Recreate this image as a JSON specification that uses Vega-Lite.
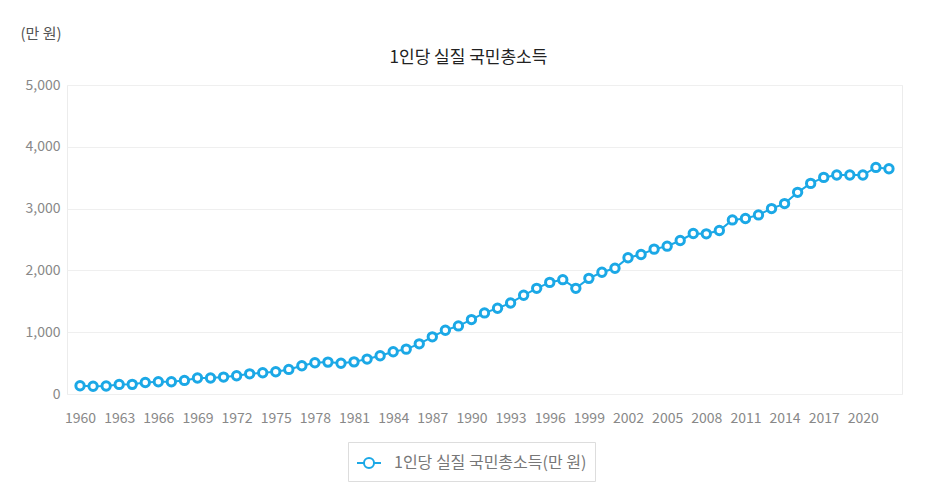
{
  "$schema": "https://vega.github.io/schema/vega-lite/v6.json",
  "width": 835,
  "height": 309,
  "autosize": {"type": "none"},
  "padding": {"left": 67, "top": 85, "right": 34, "bottom": 109},
  "background": "white",
  "config": {
    "font": "Noto Sans CJK KR",
    "view": {"stroke": "#ececec", "strokeWidth": 1}
  },
  "title": {
    "text": "1인당 실질 국민총소득",
    "fontSize": 17,
    "fontWeight": "normal",
    "color": "#222",
    "anchor": "middle",
    "dx": -16,
    "offset": -41
  },
  "data": {
    "values": [
      {"year": 1960, "value": 134}, {"year": 1961, "value": 125}, {"year": 1962, "value": 129},
      {"year": 1963, "value": 155}, {"year": 1964, "value": 156}, {"year": 1965, "value": 186},
      {"year": 1966, "value": 198}, {"year": 1967, "value": 199}, {"year": 1968, "value": 220},
      {"year": 1969, "value": 258}, {"year": 1970, "value": 258}, {"year": 1971, "value": 274},
      {"year": 1972, "value": 296}, {"year": 1973, "value": 326}, {"year": 1974, "value": 344},
      {"year": 1975, "value": 360}, {"year": 1976, "value": 398}, {"year": 1977, "value": 457},
      {"year": 1978, "value": 505}, {"year": 1979, "value": 516}, {"year": 1980, "value": 498},
      {"year": 1981, "value": 520}, {"year": 1982, "value": 565}, {"year": 1983, "value": 618},
      {"year": 1984, "value": 683}, {"year": 1985, "value": 726}, {"year": 1986, "value": 812},
      {"year": 1987, "value": 925}, {"year": 1988, "value": 1032}, {"year": 1989, "value": 1102},
      {"year": 1990, "value": 1204}, {"year": 1991, "value": 1312}, {"year": 1992, "value": 1387},
      {"year": 1993, "value": 1473}, {"year": 1994, "value": 1597}, {"year": 1995, "value": 1710},
      {"year": 1996, "value": 1806}, {"year": 1997, "value": 1850}, {"year": 1998, "value": 1710},
      {"year": 1999, "value": 1871}, {"year": 2000, "value": 1970}, {"year": 2001, "value": 2035},
      {"year": 2002, "value": 2205}, {"year": 2003, "value": 2258}, {"year": 2004, "value": 2344},
      {"year": 2005, "value": 2392}, {"year": 2006, "value": 2484}, {"year": 2007, "value": 2597},
      {"year": 2008, "value": 2592}, {"year": 2009, "value": 2645}, {"year": 2010, "value": 2817},
      {"year": 2011, "value": 2839}, {"year": 2012, "value": 2898}, {"year": 2013, "value": 3000},
      {"year": 2014, "value": 3081}, {"year": 2015, "value": 3263}, {"year": 2016, "value": 3408},
      {"year": 2017, "value": 3505}, {"year": 2018, "value": 3543}, {"year": 2019, "value": 3543},
      {"year": 2020, "value": 3543}, {"year": 2021, "value": 3666}, {"year": 2022, "value": 3645}
    ]
  },
  "encoding": {
    "x": {
      "field": "year",
      "type": "quantitative",
      "scale": {"domain": [1959, 2023], "nice": false, "zero": false},
      "axis": {
        "title": null,
        "values": [1960, 1963, 1966, 1969, 1972, 1975, 1978, 1981, 1984, 1987, 1990, 1993, 1996, 1999, 2002, 2005, 2008, 2011, 2014, 2017, 2020],
        "format": "d",
        "grid": false,
        "domain": false,
        "ticks": false,
        "labelColor": "#888",
        "labelFontSize": 14,
        "labelPadding": 17
      }
    },
    "y": {
      "field": "value",
      "type": "quantitative",
      "scale": {"domain": [0, 5000], "nice": false},
      "axis": {
        "title": "(만 원)",
        "titleAngle": 0,
        "titleAlign": "left",
        "titleBaseline": "middle",
        "titleX": -47,
        "titleY": -52,
        "titleFontSize": 15,
        "titleFontWeight": "normal",
        "titleColor": "#555",
        "values": [0, 1000, 2000, 3000, 4000, 5000],
        "format": ",d",
        "grid": true,
        "gridColor": "#efefef",
        "domain": false,
        "ticks": false,
        "labelColor": "#888",
        "labelFontSize": 14,
        "labelPadding": 7
      }
    },
    "color": {
      "datum": "1인당 실질 국민총소득(만 원)",
      "type": "nominal",
      "scale": {"range": ["#1ba8e6"]},
      "legend": {
        "title": null,
        "orient": "none",
        "legendX": 281,
        "legendY": 357,
        "strokeColor": "#dddddd",
        "padding": 8,
        "symbolType": "M-1,0L-0.42,0M0.42,0L1,0M0.42,0A0.42,0.42 0 1,1 -0.42,0A0.42,0.42 0 1,1 0.42,0Z",
        "symbolSize": 576,
        "symbolStrokeWidth": 2,
        "symbolFillColor": "white",
        "symbolStrokeColor": "#5bc0ee",
        "labelFontSize": 16,
        "labelColor": "#777",
        "labelOffset": 12,
        "labelLimit": 400
      }
    }
  },
  "layer": [
    {
      "mark": {"type": "line", "strokeWidth": 2, "color": "#1ba8e6"}
    },
    {
      "mark": {"type": "point", "shape": "circle", "filled": false, "fill": "white", "fillOpacity": 1, "stroke": "#1ba8e6", "strokeWidth": 3, "size": 70, "opacity": 1}
    }
  ]
}
